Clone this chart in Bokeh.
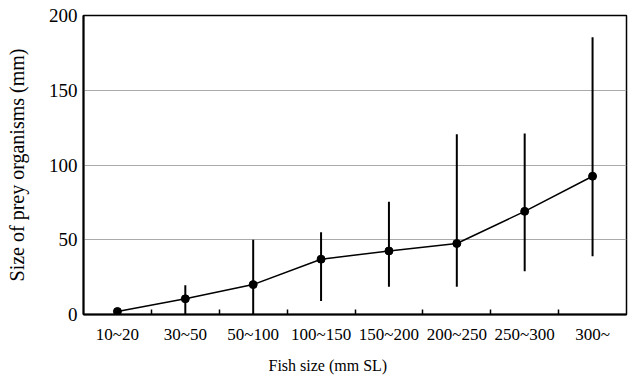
import numpy as np
from bokeh.plotting import figure
from bokeh.models import Range1d, FixedTicker, ColumnDataSource, Title
from bokeh.embed import file_html
from bokeh.resources import INLINE

categories = ["10~20", "30~50", "50~100", "100~150", "150~200", "200~250", "250~300", "300~"]
mean_size = [2, 10.5, 20, 37, 42.5, 47.5, 69, 92.5]
lower = [None, 0, 0, 9, 18.5, 18.5, 29, 39]
upper = [None, 19.5, 50, 55, 75.5, 120.5, 121, 185.5]
y_ticks = [0, 50, 100, 150, 200]

FONT = "'Liberation Serif', 'Times New Roman', serif"

n = len(categories)
xs = np.arange(n) + 0.5
src = ColumnDataSource(dict(
    x=xs,
    y=np.array(mean_size, dtype=float),
    lo=np.array(lower, dtype=float),
    hi=np.array(upper, dtype=float),
))

p = figure(width=632, height=382, output_backend="svg", toolbar_location=None,
           x_range=Range1d(0, n), y_range=Range1d(0, 200),
           min_border_left=83, min_border_right=6, min_border_top=15, min_border_bottom=68)
p.background_fill_color = "white"
p.border_fill_color = "white"
p.outline_line_color = "black"
p.outline_line_width = 1.5

# x axis
p.xaxis.ticker = FixedTicker(ticks=list(xs), minor_ticks=list(range(1, n)))
p.xaxis.major_label_overrides = {float(x): c for x, c in zip(xs, categories)}
p.xaxis.major_tick_in = 0
p.xaxis.major_tick_out = 0
p.xaxis.minor_tick_in = 5
p.xaxis.minor_tick_out = 0
p.xaxis.minor_tick_line_color = "black"
p.xaxis.minor_tick_line_width = 1.5
p.xaxis.axis_line_color = "black"
p.xaxis.axis_line_width = 2
p.xaxis.major_label_text_font = FONT
p.xaxis.major_label_text_font_size = "17px"
p.xaxis.major_label_text_color = "black"
p.xaxis.major_label_standoff = 10

xtitle = Title(text="Fish size (mm SL)", align="left", offset=185,
               text_font=FONT, text_font_size="16px", text_font_style="normal",
               text_color="black", standoff=17)
p.add_layout(xtitle, "below")

# y axis
p.yaxis.ticker = FixedTicker(ticks=y_ticks)
p.yaxis.major_tick_in = 0
p.yaxis.major_tick_out = 0
p.yaxis.minor_tick_line_color = None
p.yaxis.axis_line_color = "black"
p.yaxis.axis_line_width = 2
p.yaxis.major_label_text_font = FONT
p.yaxis.major_label_text_font_size = "19px"
p.yaxis.major_label_text_color = "black"
p.yaxis.major_label_standoff = 6
p.yaxis.axis_label = "Size of prey organisms (mm)"
p.yaxis.axis_label_text_font = FONT
p.yaxis.axis_label_text_font_size = "20px"
p.yaxis.axis_label_text_font_style = "normal"
p.yaxis.axis_label_text_color = "black"
p.yaxis.axis_label_standoff = 18

p.xgrid.grid_line_color = None
p.ygrid.grid_line_color = "#aaaaaa"
p.ygrid.grid_line_width = 1

p.segment(x0="x", y0="lo", x1="x", y1="hi", source=src, line_color="black", line_width=2)
p.line(x="x", y="y", source=src, line_color="black", line_width=1.5)
p.scatter(x="x", y="y", source=src, size=8, fill_color="black", line_color="black")

open("out.html", "w").write(file_html(p, INLINE))
